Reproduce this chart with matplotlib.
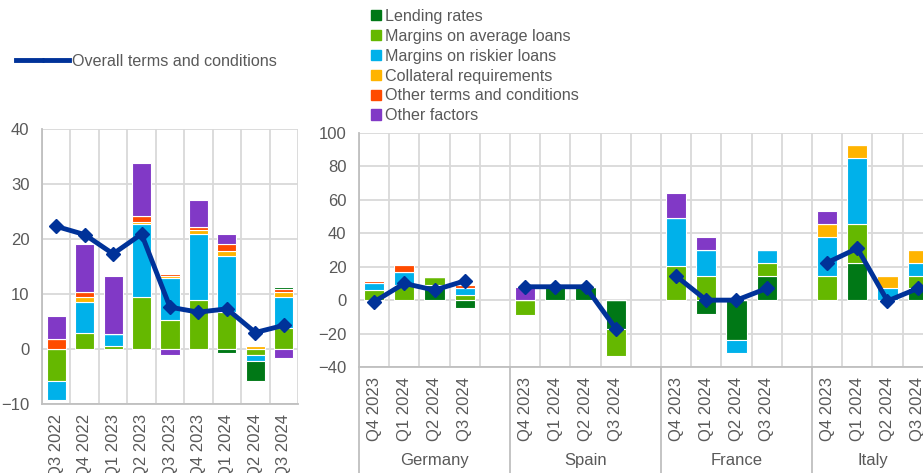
import numpy as np
import matplotlib
matplotlib.use("Agg")
import matplotlib.pyplot as plt
import matplotlib.patches as mpatches
from matplotlib.lines import Line2D

plt.rcParams["font.family"] = ["Liberation Sans", "DejaVu Sans"]

# ECB palette
C_LEND = "#007816"
C_AVG = "#65b800"
C_RISK = "#00b1ea"
C_COLL = "#ffb400"
C_OTC = "#ff4b00"
C_OTH = "#8139c6"
C_LINE = "#003299"
GRID = "#d9d9d9"
TXT = "#595959"

# --- euro area panel ---
ea_quarters = ["Q3 2022", "Q4 2022", "Q1 2023", "Q2 2023", "Q3 2023",
               "Q4 2023", "Q1 2024", "Q2 2024", "Q3 2024"]
ea_lending = [0, 0, 0, 0, 0, 0, -0.8, -3.7, 0.4]
ea_avg = [-5.8, 2.9, 0.5, 9.4, 5.2, 9.0, 6.8, -1.1, 3.9]
ea_risk = [-3.4, 5.6, 2.3, 13.4, 7.8, 11.9, 10.1, -1.1, 5.5]
ea_coll = [0, 0.9, 0, 0.2, 0.2, 0.8, 1.0, 0.5, 1.0]
ea_other_tc = [1.9, 1.0, 0, 1.2, 0.5, 0.4, 1.1, 0.3, 0.5]
ea_other_f = [4.1, 8.7, 10.5, 9.7, -1.1, 4.9, 1.9, 0.2, -1.7]
ea_overall = [22.3, 20.8, 17.3, 20.9, 7.6, 6.7, 7.3, 3.0, 4.3]

# --- country panel ---
countries = ["Germany", "Spain", "France", "Italy"]
cty_quarters = ["Q4 2023", "Q1 2024", "Q2 2024", "Q3 2024"]
lending = {"Germany": [0, 0, 9, -4.5], "Spain": [0, 8, 8, -17],
           "France": [0, -8, -24, 14.6], "Italy": [0, 22.4, 0, 7]}
avg = {"Germany": [6, 9, 4.6, 3], "Spain": [-9, 0, 0, -16.5],
       "France": [20.6, 14.6, 0, 7.8], "Italy": [14.6, 23, 0, 7.6]}
risk = {"Germany": [4, 8, 0, 4], "Spain": [0, 0, 0, 0],
        "France": [28.8, 15.4, -7.4, 7.6], "Italy": [23.2, 39.4, 7, 7.8]}
coll = {"Germany": [0, 0, 0, 0], "Spain": [0, 0, 0, 0],
        "France": [0, 0, 0, 0], "Italy": [7.6, 7.8, 7.6, 7.6]}
other_tc = {"Germany": [1.6, 3.8, 0, 2], "Spain": [0, 0, 0, 0],
            "France": [0, 0, 0, 0], "Italy": [0, 0, 0, 0]}
other_f = {"Germany": [0, 0, 0, 0], "Spain": [8, 0, 0, 0],
           "France": [14.6, 7.8, 0, 0], "Italy": [7.8, 0, 0, 0]}
overall = {"Germany": [-1, 10, 6, 11.5], "Spain": [8, 8, 8, -17],
           "France": [14.4, 0, 0, 7], "Italy": [22.4, 31, -0.5, 7]}


def stack(ax, x, series, width=0.67):
    pos = np.zeros(len(x))
    neg = np.zeros(len(x))
    for vals, col in series:
        v = np.asarray(vals, dtype=float)
        base = np.where(v >= 0, pos, neg)
        ax.bar(x, v, width, bottom=base, color=col, edgecolor="white",
               linewidth=0.8, zorder=2)
        pos = pos + np.clip(v, 0, None)
        neg = neg + np.clip(v, None, 0)


def style(ax, n, ylim, step):
    ax.set_xlim(-0.5, n - 0.5)
    ax.set_ylim(*ylim)
    ax.set_yticks(np.arange(ylim[0], ylim[1] + 1, step))
    ax.set_xticks(np.arange(-0.5, n, 1.0), minor=True)
    ax.grid(axis="y", color=GRID, linewidth=1.3, zorder=0)
    ax.grid(axis="x", which="minor", color=GRID, linewidth=1.3, zorder=0)
    for s in ["top", "right"]:
        ax.spines[s].set_visible(False)
    for s in ["left", "bottom"]:
        ax.spines[s].set_color("#bfbfbf")
        ax.spines[s].set_linewidth(1.3)
    ax.tick_params(which="both", length=0, colors=TXT, labelsize=12)
    ax.tick_params(axis="y", pad=9)
    ax.tick_params(axis="x", pad=7)
    ax.set_axisbelow(True)


fig = plt.figure(figsize=(9.23, 4.73), dpi=100)

# left panel
ax1 = fig.add_axes([42 / 923, 69 / 473, 256 / 923, 275 / 473])
x1 = np.arange(len(ea_quarters))
stack(ax1, x1, [(ea_avg, C_AVG), (ea_risk, C_RISK), (ea_coll, C_COLL),
                (ea_other_tc, C_OTC), (ea_lending, C_LEND), (ea_other_f, C_OTH)])
ax1.plot(x1, ea_overall, color=C_LINE, lw=3.5, marker="D", ms=7, zorder=3)
style(ax1, len(ea_quarters), (-10, 40), 10)
ax1.set_xticks(x1)
ax1.set_xticklabels(ea_quarters, rotation=90, fontsize=12)

# right panel
slot = 30.2
nslots = 19
ax2 = fig.add_axes([359 / 923, 106 / 473, nslots * slot / 923, 234 / 473])
xs, labels = [], []
cols = {k: [] for k in ["lend", "avg", "risk", "coll", "otc", "oth"]}
for i, c in enumerate(countries):
    xc = np.arange(4) + 5 * i
    xs.extend(xc)
    labels.extend(cty_quarters)
    cols["lend"].extend(lending[c]); cols["avg"].extend(avg[c])
    cols["risk"].extend(risk[c]); cols["coll"].extend(coll[c])
    cols["otc"].extend(other_tc[c]); cols["oth"].extend(other_f[c])
    ax2.plot(xc, overall[c], color=C_LINE, lw=3.5, marker="D", ms=7, zorder=3)
xs = np.array(xs)
stack(ax2, xs, [(cols["lend"], C_LEND), (cols["avg"], C_AVG), (cols["risk"], C_RISK),
                (cols["coll"], C_COLL), (cols["otc"], C_OTC), (cols["oth"], C_OTH)])
style(ax2, nslots, (-40, 100), 20)
ax2.set_xticks(xs)
ax2.set_xticklabels(labels, rotation=90, fontsize=12)

# group separators and country names below the axis
for i, c in enumerate(countries):
    x0 = 5 * i - 0.5
    ax2.add_line(Line2D([x0, x0], [0, -106 / 234], transform=ax2.get_xaxis_transform(),
                        color="#bfbfbf", lw=1.3, clip_on=False))
    span = 5 if i < 3 else 4
    ax2.text(x0 + span / 2, -93 / 234, c, transform=ax2.get_xaxis_transform(),
             ha="center", va="center", fontsize=12, color=TXT)

# legends
line_h = [Line2D([], [], color=C_LINE, lw=3.5, marker="D", ms=2)]
fig.legend(line_h, ["Overall terms and conditions"], loc="center left",
           bbox_to_anchor=(8 / 923, 1 - 61 / 473), frameon=False, fontsize=11.6,
           handlelength=3.3, handletextpad=0.15, labelcolor=TXT, borderpad=0)

bar_h = [mpatches.Patch(color=c) for c in [C_LEND, C_AVG, C_RISK, C_COLL, C_OTC, C_OTH]]
bar_l = ["Lending rates", "Margins on average loans", "Margins on riskier loans",
         "Collateral requirements", "Other terms and conditions", "Other factors"]
fig.legend(bar_h, bar_l, loc="upper left", bbox_to_anchor=(371 / 923, 1 - 9 / 473),
           frameon=False, fontsize=11.6, handlelength=0.6, handleheight=0.6,
           handletextpad=0.25, labelspacing=0.3, labelcolor=TXT, borderpad=0,
           borderaxespad=0)

fig.savefig("out.png", dpi=100, facecolor="white")
